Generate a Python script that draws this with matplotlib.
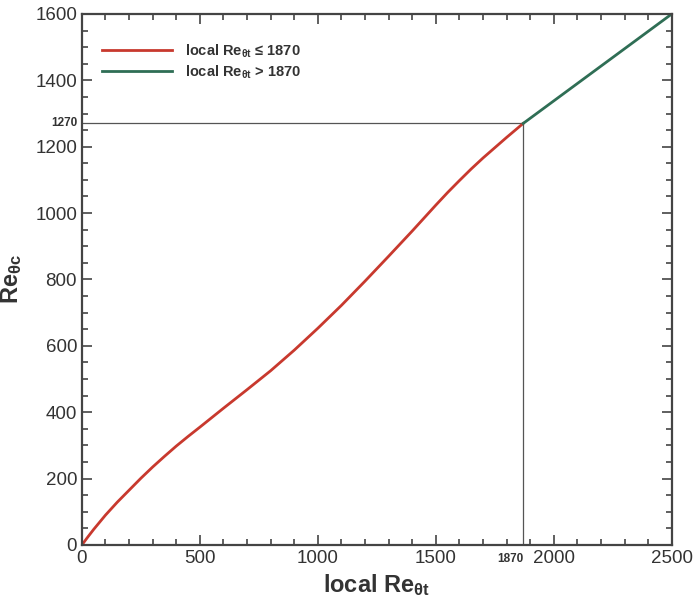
import numpy as np
import matplotlib.pyplot as plt
from matplotlib.ticker import MultipleLocator
import matplotlib.transforms as mtransforms

plt.rcParams['font.family'] = ['Liberation Sans', 'DejaVu Sans']
plt.rcParams['mathtext.fontset'] = 'custom'
plt.rcParams['mathtext.rm'] = 'Liberation Sans:bold'
plt.rcParams['mathtext.it'] = 'Liberation Sans:bold'
plt.rcParams['mathtext.bf'] = 'Liberation Sans:bold'

# curve for local Re_theta_t <= 1870
re_t_low = [0, 25, 50, 100, 150, 200, 250, 300, 350, 400, 450, 500, 600, 700,
            800, 900, 1000, 1100, 1200, 1300, 1400, 1500, 1550, 1600, 1650,
            1700, 1750, 1800, 1840, 1870]
re_c_low = [0, 24, 47, 90, 129, 165, 201, 235, 267, 298, 327, 355, 412, 468,
            525, 587, 653, 722, 795, 870, 946, 1024, 1062, 1098, 1133,
            1166, 1197, 1228, 1252, 1270]

# straight part for local Re_theta_t > 1870
re_t_high = [1870, 2500]
re_c_high = [1270, 1600]

x_break = 1870
y_break = 1270

red = "#c8392e"
green = "#2f6e55"
axc = "#444444"

fig = plt.figure(figsize=(6.94, 6.06), dpi=100)
ax = fig.add_axes([0.118, 0.1007, 0.850, 0.8763])

ax.plot(re_t_low, re_c_low, color=red, lw=2.0, label=r"local Re$_{\theta t}$ ≤ 1870")
ax.plot(re_t_high, re_c_high, color=green, lw=2.0, label=r"local Re$_{\theta t}$ > 1870")

# guide lines at the break point
ax.plot([0, x_break], [y_break, y_break], color="#555555", lw=0.9, zorder=1)
ax.plot([x_break, x_break], [0, y_break], color="#555555", lw=0.9, zorder=1)

ax.set_xlim(0, 2500)
ax.set_ylim(0, 1600)
ax.xaxis.set_major_locator(MultipleLocator(500))
ax.xaxis.set_minor_locator(MultipleLocator(100))
ax.yaxis.set_major_locator(MultipleLocator(200))
ax.yaxis.set_minor_locator(MultipleLocator(50))
ax.tick_params(which="both", direction="in", top=True, right=True, colors=axc,
               labelcolor="#333333", labelsize=13.5, width=1.2)
ax.tick_params(which="major", length=7)
ax.tick_params(which="minor", length=4)
for s in ax.spines.values():
    s.set_color(axc)
    s.set_linewidth(1.6)

ax.set_xlabel(r"local Re$_{\theta t}$", fontsize=17, fontweight="bold",
              color="#333333", labelpad=4)
ax.set_ylabel(r"Re$_{\theta c}$", fontsize=17, fontweight="bold",
              color="#333333", labelpad=8)

# break-point labels
ty = mtransforms.blended_transform_factory(ax.transAxes, ax.transData)
ax.text(-0.008, y_break, str(y_break), transform=ty, ha="right", va="center",
        fontsize=8.5, fontweight="bold", color="#333333")
tx = mtransforms.blended_transform_factory(ax.transData, ax.transAxes)
ax.text(x_break, -0.016, str(x_break), transform=tx, ha="right", va="top",
        fontsize=8.5, fontweight="bold", color="#333333")

leg = ax.legend(loc="upper left", frameon=False, fontsize=10.5, handlelength=4.8,
                borderaxespad=1.0, labelspacing=0.25, handletextpad=0.9,
                bbox_to_anchor=(0.0, 0.985))
for t in leg.get_texts():
    t.set_fontweight("bold")
    t.set_color("#333333")

fig.savefig("out.png", dpi=100)
